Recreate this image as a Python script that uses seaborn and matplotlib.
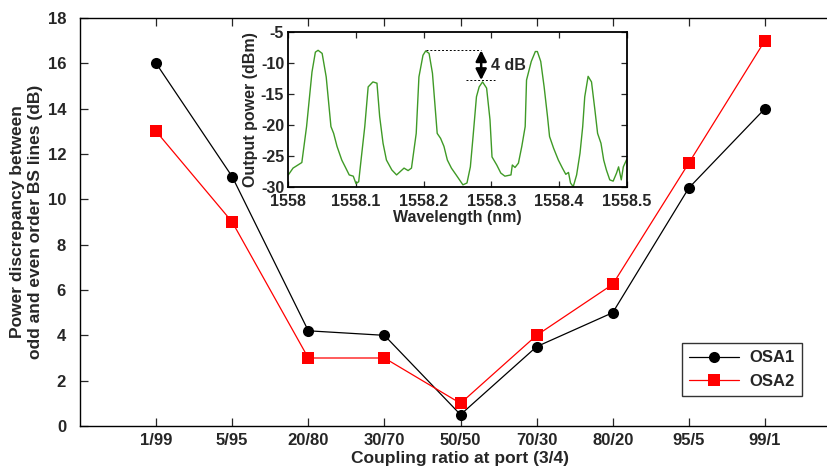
import numpy as np
import pandas as pd
import matplotlib
matplotlib.use("Agg")
import matplotlib.pyplot as plt
import seaborn as sns

# Coupling ratios and measured discrepancy (dB) for the two analysers
ratios = ["1/99", "5/95", "20/80", "30/70", "50/50", "70/30", "80/20", "95/5", "99/1"]
osa1 = [16.0, 11.0, 4.2, 4.0, 0.5, 3.5, 5.0, 10.5, 14.0]
osa2 = [13.0, 9.0, 3.0, 3.0, 1.0, 4.0, 6.25, 11.6, 17.0]

# Optical spectrum shown in the inset
wavelength = [
    1558.000, 1558.007, 1558.020, 1558.027, 1558.035, 1558.040, 1558.044, 1558.050,
    1558.056, 1558.063, 1558.067, 1558.072, 1558.079, 1558.085, 1558.090, 1558.096,
    1558.100, 1558.104, 1558.108, 1558.113, 1558.118, 1558.125, 1558.131, 1558.135,
    1558.140, 1558.145, 1558.153, 1558.160, 1558.165, 1558.171, 1558.177, 1558.182,
    1558.189, 1558.193, 1558.199, 1558.203, 1558.208, 1558.213, 1558.220, 1558.225,
    1558.230, 1558.235, 1558.241, 1558.248, 1558.253, 1558.258, 1558.264, 1558.269,
    1558.273, 1558.278, 1558.282, 1558.287, 1558.293, 1558.298, 1558.301, 1558.308,
    1558.314, 1558.320, 1558.329, 1558.331, 1558.335, 1558.340, 1558.345, 1558.350,
    1558.352, 1558.359, 1558.365, 1558.368, 1558.373, 1558.378, 1558.383, 1558.386,
    1558.392, 1558.399, 1558.405, 1558.410, 1558.414, 1558.417, 1558.421, 1558.426,
    1558.431, 1558.435, 1558.438, 1558.443, 1558.448, 1558.453, 1558.457, 1558.462,
    1558.466, 1558.470, 1558.475, 1558.480, 1558.485, 1558.488, 1558.492, 1558.495,
    1558.500,
]
power = [
    -28.1, -27.0, -26.1, -20.3, -11.5, -8.3, -8.0, -8.5,
    -12.3, -20.3, -21.4, -23.5, -25.7, -27.0, -28.1, -28.3,
    -29.5, -29.2, -25.2, -20.3, -13.9, -13.1, -13.3, -18.7,
    -23.0, -25.7, -27.3, -28.1, -27.6, -27.0, -27.4, -27.0,
    -21.4, -12.3, -8.8, -8.1, -8.5, -11.7, -21.4, -22.2,
    -23.5, -25.7, -27.0, -28.1, -28.9, -29.7, -29.4, -26.8,
    -21.9, -15.5, -13.9, -13.1, -14.1, -19.2, -25.2, -26.5,
    -27.8, -28.3, -28.1, -26.5, -26.9, -26.2, -23.5, -20.3,
    -12.8, -9.8, -8.2, -8.2, -9.8, -13.9, -18.7, -21.9,
    -23.8, -25.7, -27.0, -28.0, -27.7, -29.4, -30.0, -28.1,
    -24.6, -20.3, -15.5, -12.2, -13.1, -17.6, -21.4, -23.0,
    -25.7, -27.3, -28.9, -29.1, -27.8, -26.8, -28.9, -26.8,
    -25.6,
]

sns.set_style("ticks")
plt.rcParams["font.family"] = ["Liberation Sans", "DejaVu Sans"]
plt.rcParams["font.weight"] = "bold"
plt.rcParams["axes.labelweight"] = "bold"
plt.rcParams["axes.unicode_minus"] = False

pos = np.arange(1, len(ratios) + 1)
df = pd.DataFrame({
    "pos": np.concatenate([pos, pos]),
    "value": osa1 + osa2,
    "series": ["OSA1"] * len(pos) + ["OSA2"] * len(pos),
})

fig = plt.figure(figsize=(8.28, 4.70), dpi=100)
ax = fig.add_axes([80 / 828, 44 / 470, 761 / 828, 408 / 470])

sns.lineplot(data=df, x="pos", y="value", hue="series", style="series",
             palette={"OSA1": "black", "OSA2": "#ff0000"},
             markers={"OSA1": "o", "OSA2": "s"}, dashes=False,
             markersize=8, markeredgewidth=0, linewidth=0.9, ax=ax, legend=True)

ax.set_xlim(0, 10)
ax.set_ylim(0, 18)
ax.set_xticks(pos)
ax.set_xticklabels(ratios)
ax.set_yticks(np.arange(0, 19, 2))
ax.tick_params(direction="in", length=6, width=0.9, labelsize=12,
               top=True, right=True)
ax.tick_params(axis="x", pad=5)
ax.tick_params(axis="y", pad=10)
for lab in ax.get_xticklabels() + ax.get_yticklabels():
    lab.set_fontweight("bold")
for s in ax.spines.values():
    s.set_linewidth(1.0)
    s.set_color("black")
ax.set_xlabel("Coupling ratio at port (3/4)", fontsize=12.5, fontweight="bold", labelpad=2)
ax.set_ylabel("Power discrepancy between\nodd and even order BS lines (dB)",
              fontsize=12.5, fontweight="bold", labelpad=3, linespacing=1.25)

leg = ax.legend(loc="upper left", bbox_to_anchor=(682 / 828, 1 - 343 / 470),
                bbox_transform=fig.transFigure, frameon=True, fancybox=False,
                fontsize=12, handlelength=3.0, borderpad=0.45, labelspacing=0.5,
                handletextpad=0.6, borderaxespad=0)
leg.get_frame().set_edgecolor("black")
leg.get_frame().set_linewidth(1.0)
for t in leg.get_texts():
    t.set_fontweight("bold")

# Inset: spectrum with alternating line powers
ins = fig.add_axes([288.3 / 828, 1 - 186.7 / 470, 338.4 / 828, 155 / 470])
sns.lineplot(x=wavelength, y=power, color="#3f9a26", linewidth=1.0, ax=ins)
ins.set_xlim(1558, 1558.5)
ins.set_ylim(-30, -5)
ins.set_xticks([1558, 1558.1, 1558.2, 1558.3, 1558.4, 1558.5])
ins.set_xticklabels(["1558", "1558.1", "1558.2", "1558.3", "1558.4", "1558.5"])
ins.set_yticks([-30, -25, -20, -15, -10, -5])
ins.tick_params(direction="in", length=4, width=0.9, labelsize=11.5,
                top=True, right=True)
ins.tick_params(axis="x", pad=5)
ins.tick_params(axis="y", pad=3)
for lab in ins.get_xticklabels() + ins.get_yticklabels():
    lab.set_fontweight("bold")
for s in ins.spines.values():
    s.set_linewidth(1.3)
    s.set_color("black")
ins.set_xlabel("Wavelength (nm)", fontsize=11.5, fontweight="bold", labelpad=1)
ins.set_ylabel("Output power (dBm)", fontsize=11.5, fontweight="bold", labelpad=2)

# Level markers and the 4 dB span
ins.plot([1558.204, 1558.284], [-8.0, -8.0], color="black", linestyle=(0, (2, 2)), linewidth=0.7)
ins.plot([1558.262, 1558.305], [-12.8, -12.8], color="black", linestyle=(0, (2, 2)), linewidth=0.7)
ins.annotate("", xy=(1558.285, -8.0), xytext=(1558.285, -12.8),
             arrowprops=dict(arrowstyle="<|-|>", color="black", lw=1.8,
                             mutation_scale=16, shrinkA=0, shrinkB=0))
ins.text(1558.300, -10.4, "4 dB", fontsize=11.5, fontweight="bold", va="center", ha="left")

fig.savefig("out.png", dpi=100)
